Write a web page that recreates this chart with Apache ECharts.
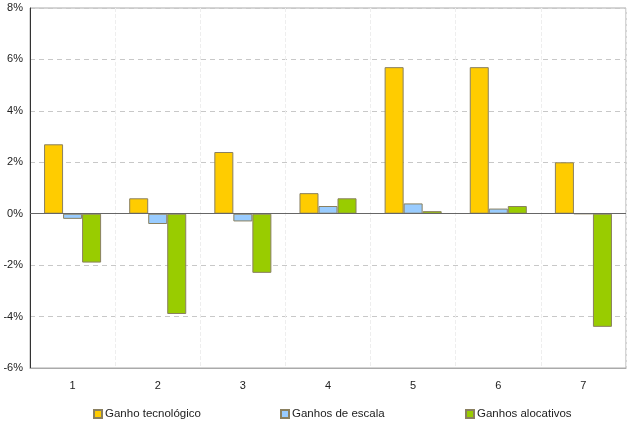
<!DOCTYPE html>
<html><head><meta charset="utf-8">
<script src="https://cdn.jsdelivr.net/npm/echarts@6/dist/echarts.min.js"></script>
<style>html,body{margin:0;padding:0;background:#fff}#c{width:640px;height:425px}</style>
</head><body><div id="c"></div>
<script>
const categories = ['1','2','3','4','5','6','7'];
const seriesNames = ['Ganho tecnológico','Ganhos de escala','Ganhos alocativos'];
const ganhoTecnologico = [2.7, 0.6, 2.4, 0.8, 5.7, 5.7, 2.0];
const ganhosEscala = [-0.2, -0.4, -0.3, 0.3, 0.4, 0.2, 0.0];
const ganhosAlocativos = [-1.9, -3.9, -2.3, 0.6, 0.1, 0.3, -4.4];
const colors = ['#FFCC00', '#99CCFF', '#99CC00'];
const values = [ganhoTecnologico, ganhosEscala, ganhosAlocativos];
const font = 'Liberation Sans, Arial, sans-serif';

const chart = echarts.init(document.getElementById('c'));
const series = seriesNames.map((n, i) => ({
  name: n, type: 'bar', data: values[i],
  barGap: '0%', barCategoryGap: '33%',
  itemStyle: { color: colors[i], borderColor: '#8a8060', borderWidth: 1 },
  animation: false,
  markLine: i === 0 ? {
    silent: true, symbol: ['none','none'], label: { show: false },
    lineStyle: { color: '#666', type: 'solid', width: 1 },
    data: [{ yAxis: 0 }]
  } : undefined
}));
const legendLefts = [93, 280, 465];
chart.setOption({
  animation: false,
  grid: { left: 30, right: 14, top: 8, bottom: 57, show: true, borderColor: '#aaa', borderWidth: 1 },
  xAxis: {
    type: 'category', data: categories,
    axisLine: { onZero: false, lineStyle: { color: '#aaa' } },
    axisTick: { show: false },
    axisLabel: { color: '#222', fontSize: 11, fontFamily: font, margin: 12 },
    splitLine: { show: true, lineStyle: { color: '#eee', type: 'dashed' } }
  },
  yAxis: {
    type: 'value', min: -6, max: 8, interval: 2,
    axisLine: { show: true, lineStyle: { color: '#333' } },
    axisTick: { show: false },
    axisLabel: { formatter: '{value}%', color: '#222', fontSize: 11, fontFamily: font, margin: 7 },
    splitLine: { show: true, lineStyle: { color: '#c8c8c8', type: [5, 4] } }
  },
  legend: seriesNames.map((n, i) => ({
    data: [n], left: legendLefts[i], top: 408, padding: 0,
    itemWidth: 8, itemHeight: 8, itemGap: 3,
    icon: 'rect',
    textStyle: { color: '#222', fontSize: 11.5, fontFamily: font, padding: [0,0,0,-2] },
    selectedMode: false
  })),
  series
});
</script></body></html>
